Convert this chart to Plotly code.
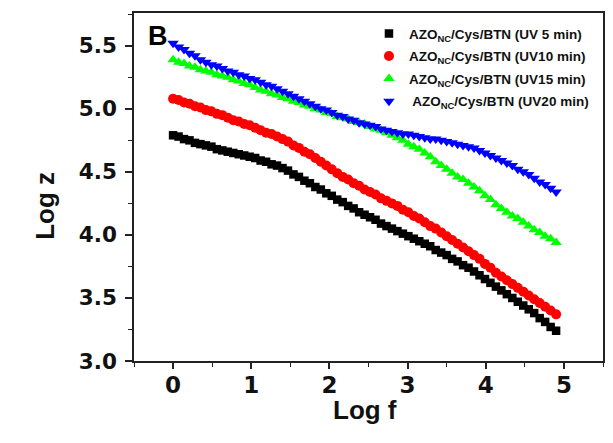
import plotly.graph_objects as go

log_f = [0.00, 0.07, 0.14, 0.21, 0.28, 0.35, 0.42, 0.49, 0.56, 0.63, 0.70, 0.77, 0.84, 0.91, 0.98,
         1.05, 1.12, 1.19, 1.26, 1.33, 1.40, 1.47, 1.54, 1.61, 1.68, 1.75, 1.82, 1.89, 1.96, 2.03,
         2.10, 2.17, 2.24, 2.31, 2.38, 2.45, 2.52, 2.59, 2.66, 2.73, 2.80, 2.87, 2.94, 3.01, 3.08,
         3.15, 3.22, 3.29, 3.36, 3.43, 3.50, 3.57, 3.64, 3.71, 3.78, 3.85, 3.92, 3.99, 4.06, 4.13,
         4.20, 4.27, 4.34, 4.41, 4.48, 4.55, 4.62, 4.69, 4.76, 4.83, 4.90]

uv5 = [4.79, 4.78, 4.76, 4.75, 4.73, 4.72, 4.71, 4.70, 4.68, 4.67, 4.66, 4.65, 4.64, 4.63, 4.62,
       4.61, 4.59, 4.58, 4.56, 4.55, 4.53, 4.51, 4.48, 4.46, 4.43, 4.41, 4.38, 4.36, 4.33, 4.31,
       4.28, 4.26, 4.23, 4.21, 4.18, 4.16, 4.14, 4.12, 4.09, 4.07, 4.05, 4.03, 4.01, 3.99, 3.97,
       3.95, 3.93, 3.91, 3.88, 3.86, 3.84, 3.81, 3.79, 3.76, 3.74, 3.71, 3.68, 3.65, 3.62, 3.59,
       3.56, 3.53, 3.50, 3.47, 3.44, 3.41, 3.38, 3.34, 3.31, 3.27, 3.24]

uv10 = [5.08, 5.07, 5.05, 5.04, 5.02, 5.01, 4.99, 4.98, 4.96, 4.95, 4.93, 4.91, 4.90, 4.88, 4.87,
        4.85, 4.83, 4.81, 4.80, 4.78, 4.76, 4.74, 4.71, 4.69, 4.66, 4.64, 4.61, 4.58, 4.55, 4.52,
        4.49, 4.46, 4.44, 4.41, 4.39, 4.36, 4.34, 4.32, 4.29, 4.27, 4.25, 4.23, 4.20, 4.18, 4.15,
        4.13, 4.10, 4.07, 4.05, 4.02, 3.99, 3.96, 3.93, 3.90, 3.87, 3.84, 3.81, 3.77, 3.74, 3.70,
        3.67, 3.64, 3.61, 3.58, 3.55, 3.52, 3.49, 3.46, 3.43, 3.40, 3.37]

uv15 = [5.39, 5.37, 5.36, 5.34, 5.33, 5.31, 5.30, 5.29, 5.27, 5.26, 5.25, 5.23, 5.22, 5.20, 5.19,
        5.17, 5.15, 5.14, 5.12, 5.11, 5.09, 5.08, 5.06, 5.05, 5.03, 5.02, 5.00, 4.99, 4.97, 4.96,
        4.94, 4.93, 4.92, 4.90, 4.89, 4.88, 4.86, 4.84, 4.83, 4.81, 4.79, 4.77, 4.75, 4.72, 4.70,
        4.68, 4.65, 4.62, 4.58, 4.55, 4.52, 4.49, 4.46, 4.44, 4.41, 4.38, 4.35, 4.31, 4.28, 4.24,
        4.21, 4.18, 4.15, 4.13, 4.10, 4.07, 4.04, 4.02, 3.99, 3.97, 3.94]

uv20 = [5.52, 5.49, 5.47, 5.44, 5.42, 5.39, 5.37, 5.35, 5.34, 5.32, 5.30, 5.29, 5.27, 5.26, 5.24,
        5.23, 5.21, 5.19, 5.18, 5.16, 5.14, 5.12, 5.10, 5.08, 5.06, 5.04, 5.02, 5.00, 4.99, 4.97,
        4.95, 4.94, 4.92, 4.91, 4.89, 4.88, 4.87, 4.86, 4.84, 4.83, 4.82, 4.81, 4.80, 4.80, 4.79,
        4.78, 4.77, 4.76, 4.76, 4.75, 4.74, 4.73, 4.72, 4.71, 4.70, 4.69, 4.67, 4.65, 4.63, 4.61,
        4.59, 4.57, 4.55, 4.52, 4.50, 4.48, 4.45, 4.42, 4.40, 4.37, 4.34]

series_names = [
    "AZO<sub>NC</sub>/Cys/BTN (UV 5 min)",
    "AZO<sub>NC</sub>/Cys/BTN (UV10 min)",
    "AZO<sub>NC</sub>/Cys/BTN (UV15 min)",
    " AZO<sub>NC</sub>/Cys/BTN (UV20 min)",
]
series_values = [uv5, uv10, uv15, uv20]
colors = ["#000000", "#FF0000", "#00FF00", "#0000FF"]
symbols = ["square", "circle", "triangle-up", "triangle-down"]
sizes = [8.5, 10, 10, 10]

x_ticks = [0, 1, 2, 3, 4, 5]
y_ticks = [3.0, 3.5, 4.0, 4.5, 5.0, 5.5]

fig = go.Figure()
for i, (name, vals) in enumerate(zip(series_names, series_values)):
    fig.add_trace(go.Scatter(
        x=log_f, y=vals, mode="markers", name=name, legendgroup=str(i),
        marker=dict(symbol=symbols[i], color=colors[i], size=sizes[i], line=dict(width=0)),
    ))

axis_common = dict(
    showgrid=False, zeroline=False, showline=True, linecolor="#222222", linewidth=1.5,
    mirror=True, ticks="outside", tickcolor="#222222", tickwidth=1.5,
)

fig.update_xaxes(
    range=[-0.5, 5.5], tickvals=x_ticks, ticktext=[str(v) for v in x_ticks], ticklen=6,
    minor=dict(dtick=0.5, tick0=0, ticks="outside", ticklen=4, tickcolor="#222222", tickwidth=1.2),
    tickfont=dict(family="DejaVu Sans", size=23, color="#111111", weight="bold"),
    ticklabelstandoff=-3, **axis_common,
)
fig.update_yaxes(
    range=[3.0, 5.76], tickvals=y_ticks, ticktext=["%.1f" % v for v in y_ticks], ticklen=7,
    minor=dict(dtick=0.25, tick0=0, ticks="outside", ticklen=4, tickcolor="#222222", tickwidth=1.2),
    tickfont=dict(family="DejaVu Sans", size=21.5, color="#111111", weight="bold"),
    ticklabelstandoff=4, **axis_common,
)

fig.update_layout(
    width=600, height=435,
    margin=dict(l=126, r=3, t=4, b=82),
    paper_bgcolor="white", plot_bgcolor="white",
    showlegend=True,
    legend=dict(
        x=0.501, y=0.985, xanchor="left", yanchor="top",
        bgcolor="rgba(0,0,0,0)", borderwidth=0,
        font=dict(family="Liberation Sans, Arial", size=13.5, color="#111111", weight="bold"),
        tracegroupgap=2, itemwidth=30,
    ),
    annotations=[
        dict(text="Log f", xref="paper", yref="paper", x=0.4926, y=-0.14,
             xanchor="center", yanchor="middle", showarrow=False,
             font=dict(family="Liberation Sans, Arial", size=26, color="#111111", weight="bold")),
        dict(text="Log z", xref="paper", yref="paper", x=-0.189, y=0.447, textangle=-90,
             xanchor="center", yanchor="middle", showarrow=False,
             font=dict(family="Liberation Sans, Arial", size=26, color="#111111", weight="bold")),
        dict(text="B", xref="paper", yref="paper", x=0.051, y=0.934,
             xanchor="center", yanchor="middle", showarrow=False,
             font=dict(family="Liberation Sans, Arial", size=27, color="#000000", weight="bold")),
    ],
)

fig.write_html("out.html")
